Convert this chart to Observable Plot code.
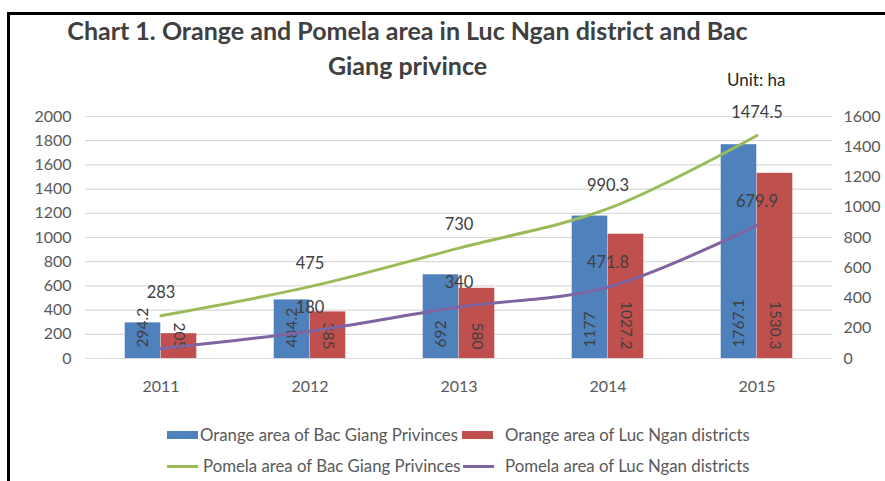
<!DOCTYPE html>
<html>
<head>
<meta charset="utf-8">
<script src="https://cdn.jsdelivr.net/npm/d3@7"></script>
<script src="https://cdn.jsdelivr.net/npm/@observablehq/plot@0.6"></script>
<style>
  html, body { margin: 0; padding: 0; background: #fff; }
  #root { position: relative; width: 885px; height: 481px; overflow: hidden; font-family: Lato, "Open Sans", sans-serif; }
  #frame { position: absolute; left: 7px; top: 12px; width: 900px; height: 500px; border-left: 3px solid #000; border-top: 3px solid #000; box-sizing: border-box; }
  #title { position: absolute; left: 0; width: 815px; top: 13px; text-align: center; font-weight: bold; font-size: 25px; line-height: 35px; color: #404040; }
  #unit { position: absolute; left: 727px; top: 69px; font-size: 17px; color: #262626; }
  .plotlayer { position: absolute; left: 0; top: 100px; }
  .leg { position: absolute; font-size: 16.8px; color: #595959; white-space: nowrap; line-height: 20px; }
  .sw { position: absolute; }
</style>
</head>
<body>
<div id="root">
  <div id="frame"></div>
  <div id="title">Chart 1. Orange and Pomela area in Luc Ngan district and Bac<br>Giang privince</div>
  <div id="unit">Unit: ha</div>
  <div id="bars" class="plotlayer"></div>
  <div id="lines" class="plotlayer"></div>
  <div id="legend"></div>
</div>
<script>
const years = ["2011", "2012", "2013", "2014", "2015"];
const orangeBacGiang = [294.2, 484.2, 692, 1177, 1767.1];
const orangeLucNgan = [205, 385, 580, 1027.2, 1530.3];
const pomelaBacGiang = [283, 475, 730, 990.3, 1474.5];
const pomelaLucNgan = [66, 180, 340, 471.8, 879.9];
const pomelaLucNganLabels = ["", "180", "340", "471.8", "679.9"];
const leftTicks = [0, 200, 400, 600, 800, 1000, 1200, 1400, 1600, 1800, 2000];
const rightTicks = [0, 200, 400, 600, 800, 1000, 1200, 1400, 1600];
const seriesNames = [
  "Orange area of Bac Giang Privinces",
  "Orange area of Luc Ngan districts",
  "Pomela area of Bac Giang Privinces",
  "Pomela area of Luc Ngan districts"
];
const colors = ["#4F81BD", "#C0504D", "#9BBB59", "#8064A2"];

const data = years.map((year, i) => ({
  year,
  ob: orangeBacGiang[i],
  ol: orangeLucNgan[i],
  pb: pomelaBacGiang[i],
  pl: pomelaLucNgan[i],
  plLabel: pomelaLucNganLabels[i]
}));

const W = 885, H = 300, ML = 85, MR = 53, MT = 16, MB = 42;
const bw = (W - ML - MR) / years.length;
const barW = 36;
const font = "Lato, 'Open Sans', sans-serif";
const fmt = d => String(d);

const bars = Plot.plot({
  width: W, height: H, marginLeft: ML, marginRight: MR, marginTop: MT, marginBottom: MB,
  style: {fontFamily: font, fontSize: "16px", color: "#595959", background: "transparent"},
  x: {type: "band", domain: years, padding: 0, label: null},
  y: {domain: [0, 2000], label: null},
  marks: [
    Plot.gridY(leftTicks, {stroke: "#d9d9d9", strokeOpacity: 1, strokeWidth: 1.2}),
    Plot.axisY(leftTicks, {tickSize: 0, tickPadding: 14, label: null, tickFormat: fmt}),
    Plot.axisX({tickSize: 0, tickPadding: 22, label: null}),
    Plot.barY(data, {x: "year", y: "ob", fill: colors[0], insetLeft: bw / 2 - barW, insetRight: bw / 2}),
    Plot.barY(data, {x: "year", y: "ol", fill: colors[1], insetLeft: bw / 2, insetRight: bw / 2 - barW}),
    Plot.text(data, {x: "year", y: 0, text: d => String(d.ob), rotate: -90, textAnchor: "start", dx: -barW / 2, dy: -11, fill: "#404040", fontSize: 15.5}),
    Plot.text(data, {x: "year", y: 0, text: d => String(d.ol), rotate: 90, textAnchor: "end", dx: barW / 2, dy: -9, fill: "#404040", fontSize: 15.5})
  ]
});
document.getElementById("bars").appendChild(bars);

const lines = Plot.plot({
  width: W, height: H, marginLeft: ML, marginRight: MR, marginTop: MT, marginBottom: MB,
  style: {fontFamily: font, fontSize: "16px", color: "#595959", background: "transparent"},
  x: {type: "band", domain: years, padding: 0, label: null, axis: null},
  y: {domain: [0, 1600], label: null},
  marks: [
    Plot.axisY(rightTicks, {anchor: "right", tickSize: 0, tickPadding: 11, label: null, tickFormat: fmt}),
    Plot.line(data, {x: "year", y: "pb", stroke: colors[2], strokeWidth: 3, curve: "catmull-rom"}),
    Plot.line(data, {x: "year", y: "pl", stroke: colors[3], strokeWidth: 3, curve: "catmull-rom"}),
    Plot.text(data, {x: "year", y: "pb", text: d => String(d.pb), dy: -23, fill: "#404040", fontSize: 16.5}),
    Plot.text(data, {x: "year", y: "pl", text: "plLabel", dy: -24, fill: "#404040", fontSize: 16.5})
  ]
});
document.getElementById("lines").appendChild(lines);

// Legend
const legend = document.getElementById("legend");
const legItems = [
  {name: seriesNames[0], color: colors[0], type: "rect", sx: 167, tx: 200, y: 435},
  {name: seriesNames[1], color: colors[1], type: "rect", sx: 462, tx: 505, y: 435},
  {name: seriesNames[2], color: colors[2], type: "line", sx: 167, tx: 203, y: 466},
  {name: seriesNames[3], color: colors[3], type: "line", sx: 463, tx: 505, y: 466}
];
legItems.forEach(it => {
  const sw = document.createElement("div");
  sw.className = "sw";
  const h = it.type === "rect" ? 8 : 3;
  sw.style.cssText = `left:${it.sx}px;top:${it.y - h / 2}px;width:31px;height:${h}px;background:${it.color};`;
  legend.appendChild(sw);
  const t = document.createElement("div");
  t.className = "leg";
  t.style.left = it.tx + "px";
  t.style.top = (it.y - 10) + "px";
  t.textContent = it.name;
  legend.appendChild(t);
});
</script>
</body>
</html>
